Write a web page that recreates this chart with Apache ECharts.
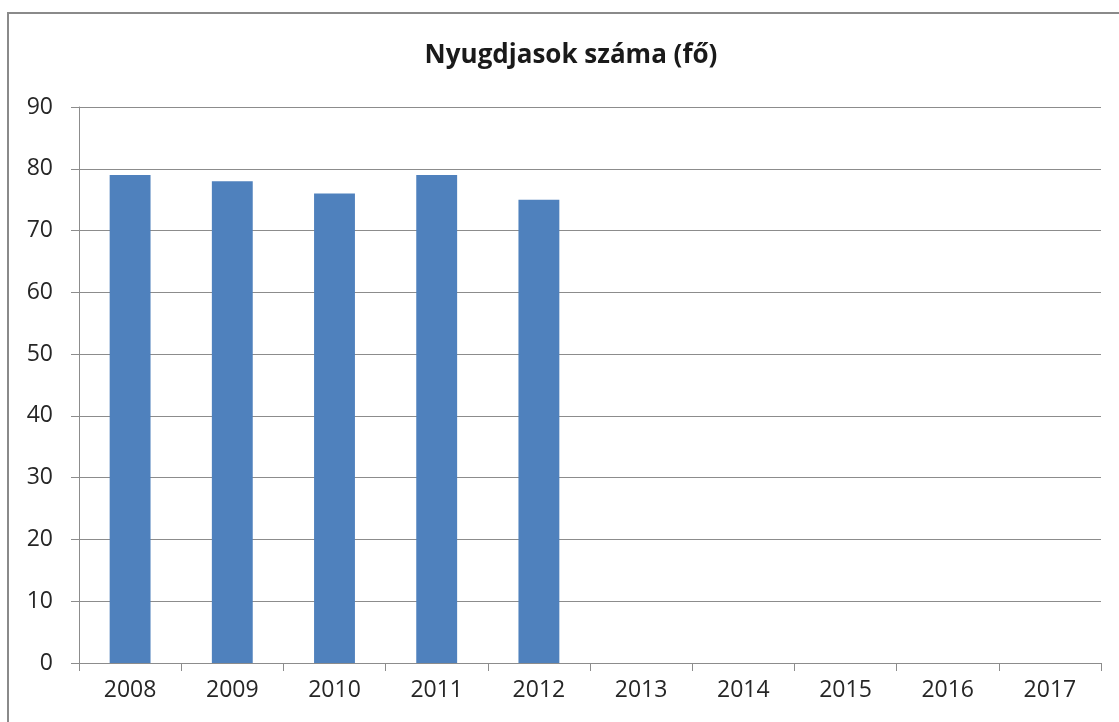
<!DOCTYPE html>
<html>
<head>
<meta charset="utf-8">
<script src="https://cdn.jsdelivr.net/npm/echarts@6/dist/echarts.min.js"></script>
<style>
  html, body { margin: 0; padding: 0; background: #fff; }
  #chart { width: 1119px; height: 722px; }
</style>
</head>
<body>
<div id="chart"></div>
<script>
// adatok
var years = ['2008', '2009', '2010', '2011', '2012', '2013', '2014', '2015', '2016', '2017'];
var pensioners = [79, 78, 76, 79, 75, null, null, null, null, null];
var yMin = 0;
var yMax = 90;
var yStep = 10;

var chart = echarts.init(document.getElementById('chart'));

chart.setOption({
  backgroundColor: '#fff',
  animation: false,
  title: {
    text: 'Nyugdjasok száma (fő)',
    left: 566,
    top: 38,
    textAlign: 'center',
    textStyle: {
      fontFamily: 'Open Sans',
      fontSize: 26,
      fontWeight: 'bold',
      color: '#1a1a1a'
    }
  },
  graphic: [{
    type: 'rect',
    shape: { x: 8, y: 13, width: 1200, height: 800 },
    style: { fill: 'none', stroke: '#8a8a8a', lineWidth: 2 },
    silent: true
  }],
  grid: {
    left: 79,
    right: 18,
    top: 107,
    bottom: 59
  },
  xAxis: {
    type: 'category',
    data: years,
    axisLine: { lineStyle: { color: '#8c8c8c', width: 1 } },
    axisTick: { show: true, length: 8, lineStyle: { color: '#8c8c8c' } },
    axisLabel: {
      margin: 16,
      fontFamily: 'Open Sans',
      fontSize: 23,
      color: '#262626'
    }
  },
  yAxis: {
    type: 'value',
    min: yMin,
    max: yMax,
    interval: yStep,
    axisLine: { show: true, lineStyle: { color: '#8c8c8c', width: 1 } },
    axisTick: { show: true, length: 8, lineStyle: { color: '#8c8c8c' } },
    splitLine: { lineStyle: { color: '#8c8c8c', width: 1 } },
    axisLabel: {
      margin: 26,
      fontFamily: 'Open Sans',
      fontSize: 23,
      color: '#262626'
    }
  },
  series: [{
    type: 'bar',
    data: pensioners,
    barWidth: '40%',
    itemStyle: { color: '#4f81bd' }
  }]
});
</script>
</body>
</html>
